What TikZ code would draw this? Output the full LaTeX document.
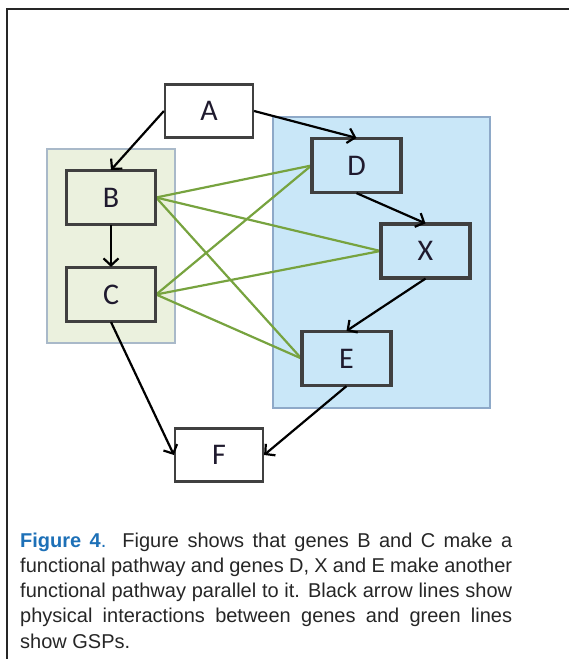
\documentclass[tikz,border=0pt]{standalone}
\usepackage{fontspec}
\setmainfont{Liberation Sans}
\newfontfamily\boxfont{Carlito}
\usetikzlibrary{arrows.meta}
\definecolor{grbg}{HTML}{EBF1DE}
\definecolor{grbd}{HTML}{A9B9C9}
\definecolor{blbg}{HTML}{C9E7F8}
\definecolor{blbd}{HTML}{8EA9C8}
\definecolor{boxbd}{HTML}{404040}
\definecolor{gsp}{HTML}{77A33F}
\definecolor{figblue}{HTML}{1D70B7}
\definecolor{txt}{HTML}{1F1A2E}
\tikzset{
  gene/.style={draw=boxbd, line width=2.2pt, minimum width=88pt, minimum height=53pt, inner sep=0pt, font=\boxfont\fontsize{30}{34}\selectfont, text=txt},
  phys/.style={draw=black, line width=2.2pt, -{Straight Barb[length=7pt,width=15pt,line width=2.2pt]}},
  gspline/.style={draw=gsp, line width=2.2pt},
}
\begin{document}
\begin{tikzpicture}[x=1pt,y=-1pt]
\useasboundingbox (0,0) rectangle (569,659);
% frame
\draw[line width=2.2pt, color=black!85] (569,9) -- (7,9) -- (7,659);
% pathway backgrounds
\path[fill=grbg, draw=grbd, line width=1.5pt] (47,149) rectangle (175,343);
\path[fill=blbg, draw=blbd, line width=1.5pt] (273,117) rectangle (490,408);
% nodes
\node[gene, fill=white] (A) at (209,111) {A};
\node[gene, fill=grbg] (B) at (111,197.5) {B};
\node[gene, fill=grbg] (C) at (111,294.5) {C};
\node[gene, fill=blbg] (D) at (356.5,165.5) {D};
\node[gene, fill=blbg] (X) at (425.5,251) {X};
\node[gene, fill=blbg] (E) at (346.5,358.5) {E};
\node[gene, fill=white] (F) at (219,455) {F};
% GSP lines
\foreach \s in {B,C}{
  \foreach \t in {D,X,E}{
    \draw[gspline] (\s.east) -- (\t.west);
  }
}
% redraw box borders over green lines
\foreach \n in {B,C,D,X,E}{
  \draw[draw=boxbd, line width=2.2pt] (\n.north west) rectangle (\n.south east);
}
% physical interactions
\draw[phys] (A.west) -- (B.north);
\draw[phys] (A.east) -- (D.north);
\draw[phys] (B.south) -- (C.north);
\draw[phys] (D.south) -- (X.north);
\draw[phys] (X.south) -- (E.north);
\draw[phys] (C.south) -- (F.west);
\draw[phys] (E.south) -- (F.east);
% caption
\node[anchor=base west, inner sep=0pt, text=black!85] (cap) at (20,547) {\parbox[t]{492pt}{\fontsize{20}{25.3}\selectfont\hyphenpenalty=10000\exhyphenpenalty=10000\leavevmode
{\color{figblue}\textbf{Figure 4}.} Figure shows that genes B and C make a\linebreak functional pathway and genes D, X and E make another\linebreak functional pathway parallel to it. Black arrow lines show\linebreak physical interactions between genes and green lines\linebreak show GSPs.}};
\end{tikzpicture}
\end{document}
